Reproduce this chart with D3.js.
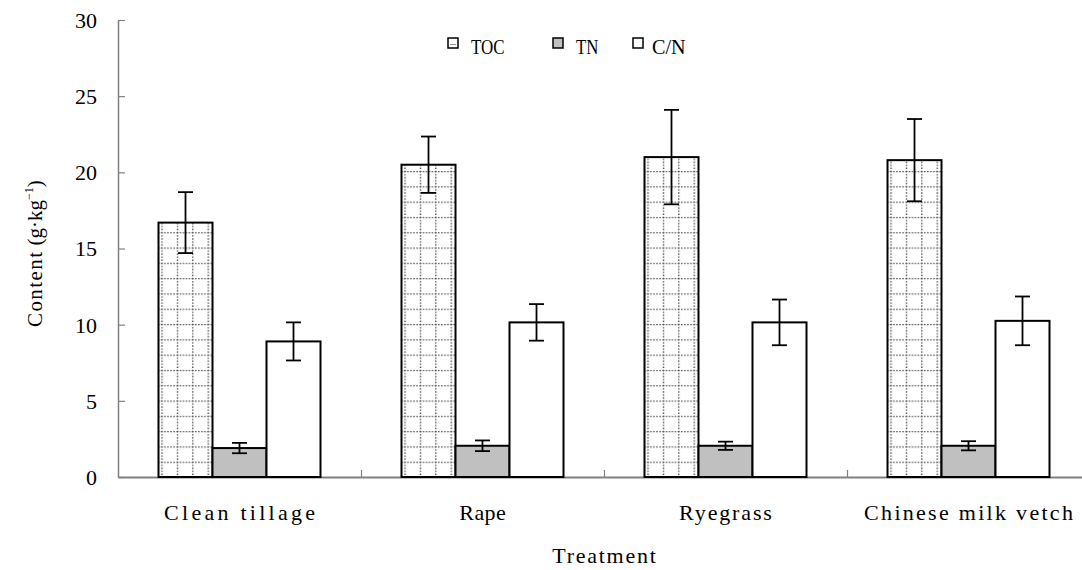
<!DOCTYPE html>
<html>
<head>
<meta charset="utf-8">
<script src="https://cdn.jsdelivr.net/npm/d3@7"></script>
<style>
body { margin: 0; background: #fff; }
text { font-family: "Liberation Serif", "DejaVu Serif", serif; fill: #000; }
</style>
</head>
<body>
<div id="chart"></div>
<script>
var categories = ["Clean tillage", "Rape", "Ryegrass", "Chinese milk vetch"];
var seriesNames = ["TOC", "TN", "C/N"];
var toc = [16.7, 20.5, 21.0, 20.8];
var tocErr = [2.0, 1.85, 3.1, 2.7];
var tn = [1.9, 2.05, 2.05, 2.05];
var tnErr = [0.34, 0.35, 0.27, 0.3];
var cn = [8.9, 10.15, 10.15, 10.25];
var cnErr = [1.25, 1.2, 1.5, 1.6];
var yTicks = [0, 5, 10, 15, 20, 25, 30];

var W = 1082, H = 570;
var margin = {top: 20, left: 118, bottom: 477, right: 1090};
var CHAR = 11.6; // half-width glyph advance of the original font

var data = categories.map((c, i) => ({
	name: c,
	values: [
		{key: "TOC", v: toc[i], e: tocErr[i]},
		{key: "TN", v: tn[i], e: tnErr[i]},
		{key: "C/N", v: cn[i], e: cnErr[i]}
	]
}));

// give text a fixed width per character, like the monospaced original
function fit(sel, perChar) {
	sel.each(function() {
		var t = d3.select(this);
		var target = t.text().length * perChar;
		var nat = this.getComputedTextLength();
		t.attr("textLength", target)
		 .attr("lengthAdjust", nat > target ? "spacingAndGlyphs" : "spacing");
	});
}

var svg = d3.select("#chart")
			.append("svg")
			.attr("width", W)
			.attr("height", H);

// dotted grid pattern for TOC
var defs = svg.append("defs");
var pat = defs.append("pattern")
	.attr("id", "grid")
	.attr("patternUnits", "userSpaceOnUse")
	.attr("x", 2.9).attr("y", 2.7)
	.attr("width", 15.4).attr("height", 15.3);
pat.append("rect").attr("width", 15.4).attr("height", 15.3).attr("fill", "#fff");
pat.append("line").attr("x1", 0).attr("x2", 15.4).attr("y1", 0.6).attr("y2", 0.6)
	.attr("stroke", "#333").attr("stroke-width", 1.3).attr("stroke-dasharray", "1.3 1.7");
pat.append("line").attr("x1", 0.6).attr("x2", 0.6).attr("y1", 0).attr("y2", 15.3)
	.attr("stroke", "#333").attr("stroke-width", 1.3).attr("stroke-dasharray", "1.3 1.7");

var fills = {"TOC": "url(#grid)", "TN": "#c0c0c0", "C/N": "#fff"};

var x0 = d3.scaleBand()
	.domain(categories)
	.range([margin.left, margin.right])
	.paddingInner(1 / 3)
	.paddingOuter(1 / 6);

var x1 = d3.scaleBand()
	.domain(seriesNames)
	.range([0, x0.bandwidth()]);

var xLin = d3.scaleLinear()
	.domain([0, categories.length])
	.range([margin.left, margin.right]);

var y = d3.scaleLinear()
	.domain([0, 30])
	.range([margin.bottom, margin.top]);

// y axis
var yAxis = svg.append("g")
	.attr("transform", `translate(${margin.left},0)`)
	.call(d3.axisLeft(y).tickValues(yTicks).tickSize(-7).tickPadding(21).tickSizeOuter(0));
yAxis.select(".domain").attr("stroke", "#808080").attr("stroke-width", 1.5);
yAxis.selectAll(".tick line").attr("stroke", "#808080").attr("stroke-width", 1.2);
yAxis.selectAll(".tick text").attr("font-size", 22).attr("font-family", null).attr("dy", "0.34em");

// x axis (category boundaries)
var xAxis = svg.append("g")
	.attr("transform", `translate(0,${margin.bottom})`)
	.call(d3.axisBottom(xLin).tickValues([1, 2, 3]).tickSize(-7).tickFormat("").tickSizeOuter(0));
xAxis.select(".domain").attr("stroke", "#808080").attr("stroke-width", 2);
xAxis.selectAll(".tick line").attr("stroke", "#808080").attr("stroke-width", 1.2);

// category labels
var xLab = svg.append("g")
	.attr("transform", `translate(0,${margin.bottom})`)
	.call(d3.axisBottom(x0).tickSize(0).tickPadding(0));
xLab.select(".domain").remove();
xLab.selectAll(".tick text").attr("font-size", 22).attr("font-family", null)
	.attr("dy", null).attr("y", 43);
fit(xLab.selectAll(".tick text"), CHAR);

// bars
var groups = svg.append("g")
	.selectAll("g")
	.data(data)
	.join("g")
	.attr("transform", d => `translate(${x0(d.name)},0)`);

groups.selectAll("rect")
	.data(d => d.values)
	.join("rect")
	.attr("x", d => x1(d.key))
	.attr("y", d => y(d.v))
	.attr("width", x1.bandwidth())
	.attr("height", d => y(0) - y(d.v))
	.attr("fill", d => fills[d.key])
	.attr("stroke", "#000")
	.attr("stroke-width", 2);

// error bars
var eb = groups.selectAll("g.err")
	.data(d => d.values)
	.join("g")
	.attr("class", "err")
	.attr("transform", d => `translate(${x1(d.key) + x1.bandwidth() / 2},0)`)
	.attr("stroke", "#000")
	.attr("stroke-width", 1.8);
eb.append("line").attr("x1", 0).attr("x2", 0)
	.attr("y1", d => y(d.v + d.e)).attr("y2", d => y(d.v - d.e));
eb.append("line").attr("x1", -7.5).attr("x2", 7.5)
	.attr("y1", d => y(d.v + d.e)).attr("y2", d => y(d.v + d.e));
eb.append("line").attr("x1", -7.5).attr("x2", 7.5)
	.attr("y1", d => y(d.v - d.e)).attr("y2", d => y(d.v - d.e));

// legend
var legendX = {"TOC": 448, "TN": 553, "C/N": 633};
var legend = svg.append("g")
	.selectAll("g")
	.data(seriesNames)
	.join("g")
	.attr("transform", d => `translate(${legendX[d]},38)`);
legend.append("rect")
	.attr("width", 10).attr("height", 10)
	.attr("fill", d => d === "TOC" ? "#fff" : fills[d])
	.attr("stroke", "#000").attr("stroke-width", 1.5);
legend.filter(d => d === "TOC").append("line")
	.attr("x1", 2.5).attr("x2", 8).attr("y1", 6.5).attr("y2", 6.5)
	.attr("stroke", "#333").attr("stroke-width", 1.2).attr("stroke-dasharray", "1 1");
var legText = legend.append("text")
	.attr("x", d => d === "C/N" ? 19 : 23)
	.attr("y", 15.5)
	.attr("font-size", 22)
	.text(d => d);
fit(legText, 11.2);

// axis titles
var xt = svg.append("text")
	.attr("x", (margin.left + margin.right) / 2)
	.attr("y", 563)
	.attr("text-anchor", "middle")
	.attr("font-size", 22)
	.text("Treatment");
fit(xt, 11.5);

var yt = svg.append("text")
	.attr("transform", "translate(42,327) rotate(-90)")
	.attr("font-size", 21);
yt.append("tspan").attr("textLength", 75).attr("lengthAdjust", "spacing").text("Content");
yt.append("tspan").attr("dx", 5).text("(g·kg");
yt.append("tspan").attr("font-size", 12).attr("dy", -9).text("−1");
yt.append("tspan").attr("dy", 9).text(")");
</script>
</body>
</html>
